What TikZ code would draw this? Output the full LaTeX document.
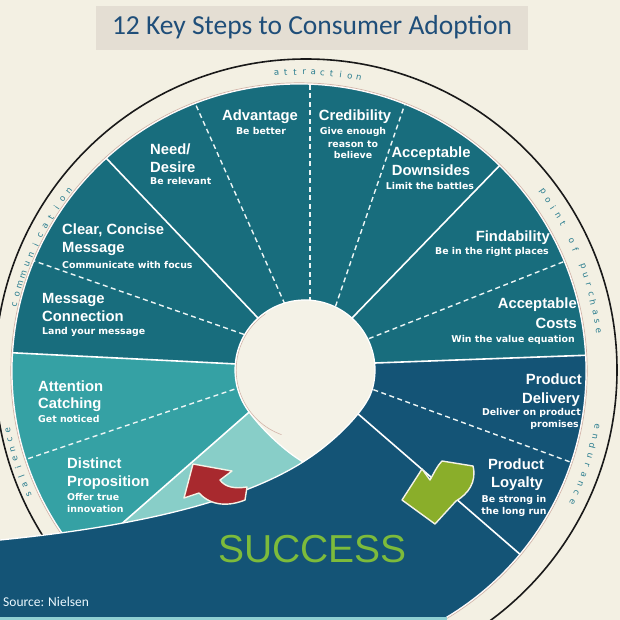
\documentclass[tikz,border=0pt]{standalone}
\usepackage{fontspec}
\setmainfont{Liberation Sans}
\newfontfamily\hdfont{Liberation Sans}
\newfontfamily\sbfont{DejaVu Sans}
\newfontfamily\ttlfont{Carlito}
\newfontfamily\rgfont{DejaVu Sans}
\usetikzlibrary{calc}
\definecolor{bgc}{HTML}{F3F0E3}
\definecolor{boxc}{HTML}{E4DED3}
\definecolor{titlec}{HTML}{1F4E79}
\definecolor{tealc}{HTML}{186D7D}
\definecolor{saltc}{HTML}{35A1A4}
\definecolor{palec}{HTML}{88CEC8}
\definecolor{navyc}{HTML}{145476}
\definecolor{holec}{HTML}{F4F2E7}
\definecolor{ringc}{HTML}{2A7D8F}
\definecolor{redc}{HTML}{A8292E}
\definecolor{greenc}{HTML}{8AAE2A}
\definecolor{succc}{HTML}{7DBB3B}
\definecolor{pinkc}{HTML}{D2B3A8}
\definecolor{stripc}{HTML}{8FD0D3}
\newcommand\ringword[5]{%
  \foreach \ch [count=\k from 0] in {#4} {
    \pgfmathsetmacro\ang{#1+#2*\k}
    \node[ringl, rotate={-\ang-90}] (#5\k) at ($(DC)+(\ang:#3)$) {\ch};
  }}
\begin{document}
\begin{tikzpicture}[x=1pt,y=-1pt,
  hd/.style={font=\hdfont\bfseries\fontsize{14.8pt}{17pt}\selectfont, text=white, inner sep=0pt},
  sb/.style={font=\sbfont\bfseries\fontsize{9.4pt}{11pt}\selectfont, text=white, inner sep=0pt},
  ringl/.style={font=\rgfont\fontsize{8.6pt}{9pt}\selectfont, text=ringc, inner sep=0pt, anchor=center},
  seg/.style={draw=white, line width=1.6pt},
  dseg/.style={draw=white!92!teal, line width=1.4pt, dash pattern=on 5pt off 3.5pt},
  arrowshape/.style={draw=holec, line width=1.4pt, line join=round}]
\useasboundingbox (0,0) rectangle (620,620);
\clip (0,0) rectangle (620,620);
\fill[bgc] (0,0) rectangle (620,620);
\coordinate (DC) at (299,371);
\coordinate (RC) at (306,370);
\coordinate (H) at (305,370);
\coordinate (hR) at ($(H)+(17:70)$);
\coordinate (hL) at ($(H)+(143:70)$);
\coordinate (tip) at (303,462);

% title
\node[fill=boxc, minimum width=432pt, minimum height=44pt, inner sep=0pt] (tbox) at (311.5,28.5) {};
\node[font=\ttlfont\fontsize{27.5pt}{30pt}\selectfont, text=titlec, anchor=base, inner sep=0pt] (title) at (312,35) {12 Key Steps to Consumer Adoption};

% outer ring
\draw[black!90, line width=1.6pt] (RC) circle[radius=311];

% ring words
\ringword{-94.3}{1.76}{299}{a,t,t,r,a,c,t,i,o,n}{ra}
\ringword{-36.3}{1.79}{302}{p,o,i,n,t,{},o,f,{},p,u,r,c,h,a,s,e}{rp}
\ringword{10.6}{1.875}{303}{e,n,d,u,r,a,n,c,e}{re}
\ringword{193.1}{2.08}{292}{c,o,m,m,u,n,i,c,a,t,i,o,n}{rc}
\ringword{155.5}{1.85}{297}{s,a,l,i,e,n,c,e}{rs}

% disk
\fill[tealc] (DC) circle[radius=287];
\begin{scope}
  \clip (DC) circle[radius=287];
  % salience sector
  \fill[saltc] (281,366) -- (-27,351) -- (-20,650) -- (290,650) -- (290,380) -- cycle;
  % pale wedge
  \fill[palec] (hL) -- (108,536) -- (108,600) -- (330,600) -- (310,420) -- cycle;
  \draw[seg] ($(hL)!-0.1!(118,527)$) -- ($(hL)!1.08!(118,527)$);
  % navy (endurance + success)
  \fill[navyc] (0,540) .. controls (110,529) and (230,508) .. (tip)
     .. controls (335,442) and (366,410) .. (hR) -- (330,365) -- (700,351) -- (700,700) -- (0,700) -- cycle;
\end{scope}
% disk edge
\draw[pinkc, line width=0.7pt] (DC) circle[radius=288.2];
\draw[white!94!pink, line width=1.2pt] (DC) circle[radius=287];
% success band
\fill[navyc] (0,540) .. controls (110,529) and (230,508) .. (tip) -- (303,630) -- (0,630) -- cycle;
\draw[white, line width=1.3pt] (0,540) .. controls (110,529) and (230,508) .. (tip);
\fill[stripc] (0,616.5) rectangle (447,620);

% segment lines
\begin{scope}
  \clip (DC) circle[radius=287];
  \draw[seg]  ($(237,364)!-0.1!(17,353)$) -- ($(237,364)!1.2!(17,353)$);
  \draw[dseg] ($(238,388)!-0.1!(33,457)$) -- ($(238,388)!1.2!(33,457)$);
  \draw[dseg] ($(240,333)!-0.1!(40,263)$) -- ($(240,333)!1.2!(40,263)$);
  \draw[seg]  ($(257,317)!-0.1!(108,160)$) -- ($(257,317)!1.2!(108,160)$);
  \draw[dseg] ($(283,300)!-0.1!(195,103)$) -- ($(283,300)!1.2!(195,103)$);
  \draw[dseg] ($(310,298)!-0.1!(310,85)$) -- ($(310,298)!1.2!(310,85)$);
  \draw[dseg] ($(337,302)!-0.1!(407,98)$) -- ($(337,302)!1.2!(407,98)$);
  \draw[seg]  ($(353,317)!-0.1!(503,162)$) -- ($(353,317)!1.2!(503,162)$);
  \draw[dseg] ($(373,337)!-0.1!(573,258)$) -- ($(373,337)!1.2!(573,258)$);
  \draw[seg]  ($(375,363)!-0.1!(593,355)$) -- ($(375,363)!1.2!(593,355)$);
  \draw[dseg] ($(377,391)!-0.1!(573,463)$) -- ($(377,391)!1.2!(573,463)$);
  \draw[seg]  ($(357,413)!-0.1!(522,556)$) -- ($(357,413)!1.2!(522,556)$);
\end{scope}

% hole
\fill[holec] (hR) arc[start angle=17, end angle=-217, radius=70]
   .. controls (264,432) and (286,452) .. (tip)
   .. controls (335,442) and (366,410) .. (hR) -- cycle;
\draw[pinkc, line width=0.6pt] (H) ++(110:68.8) arc[start angle=110, end angle=235, radius=68.8];
\draw[white, line width=1.2pt] (hR) arc[start angle=17, end angle=-217, radius=70]
   .. controls (264,432) and (286,452) .. (tip)
   .. controls (335,442) and (366,410) .. (hR) -- cycle;

% arrows
\draw[arrowshape, fill=redc] (193,464) -- (232,471) -- (220,480)
   .. controls (225,487) and (234,489) .. (247,487) -- (245,500)
   .. controls (230,506) and (212,507) .. (199,493) -- (184,498) -- cycle;
\draw[arrowshape, fill=greenc] (402,500) -- (422,469) -- (430,480)
   .. controls (434,473) and (437,466) .. (442,461) -- (473,466)
   .. controls (477,482) and (468,494) .. (456,501) -- (435,524) -- cycle;

% labels
\node[hd, anchor=base west] (nd1) at (150,155) {Need/};
\node[hd, anchor=base west] (nd2) at (150,173) {Desire};
\node[sb, anchor=base west] (nd3) at (150,185) {Be relevant};

\node[hd, anchor=base] (ad1) at (260,121) {Advantage};
\node[sb, anchor=base] (ad2) at (261,135) {Be better};

\node[hd, anchor=base] (cr1) at (355,121) {Credibility};
\node[sb, anchor=base] (cr2) at (353,135) {Give enough};
\node[sb, anchor=base] (cr3) at (353,147.5) {reason to};
\node[sb, anchor=base] (cr4) at (353,159) {believe};

\node[hd, anchor=base] (ds1) at (431,158) {Acceptable};
\node[hd, anchor=base] (ds2) at (431,176) {Downsides};
\node[sb, anchor=base] (ds3) at (430,190) {Limit the battles};

\node[hd, anchor=base east] (fd1) at (550,241.5) {Findability};
\node[sb, anchor=base east] (fd2) at (549,254) {Be in the right places};

\node[hd, anchor=base east] (co1) at (577,308) {Acceptable};
\node[hd, anchor=base east] (co2) at (577,328.5) {Costs};
\node[sb, anchor=base east] (co3) at (575,342) {Win the value equation};

\node[hd, anchor=base east] (pd1) at (582,384.5) {Product};
\node[hd, anchor=base east] (pd2) at (580,403) {Delivery};
\node[sb, anchor=base east] (pd3) at (581,415.5) {Deliver on product};
\node[sb, anchor=base east] (pd4) at (579,427) {promises};

\node[hd, anchor=base] (pl1) at (516,469.5) {Product};
\node[hd, anchor=base] (pl2) at (517,487.5) {Loyalty};
\node[sb, anchor=base] (pl3) at (514,502) {Be strong in};
\node[sb, anchor=base] (pl4) at (514,514) {the long run};

\node[hd, anchor=base west] (cc1) at (62,234) {Clear, Concise};
\node[hd, anchor=base west] (cc2) at (62,252.5) {Message};
\node[sb, anchor=base west] (cc3) at (62,268) {Communicate with focus};

\node[hd, anchor=base west] (mc1) at (42,303) {Message};
\node[hd, anchor=base west] (mc2) at (42,321) {Connection};
\node[sb, anchor=base west] (mc3) at (42,334) {Land your message};

\node[hd, anchor=base west] (ac1) at (38,391) {Attention};
\node[hd, anchor=base west] (ac2) at (38,408.5) {Catching};
\node[sb, anchor=base west] (ac3) at (38,422) {Get noticed};

\node[hd, anchor=base west] (dp1) at (67,468) {Distinct};
\node[hd, anchor=base west] (dp2) at (67,486) {Proposition};
\node[sb, anchor=base west] (dp3) at (67,500) {Offer true};
\node[sb, anchor=base west] (dp4) at (67,512) {innovation};

\node[font=\hdfont\fontsize{39pt}{42pt}\selectfont, text=succc, anchor=base, inner sep=0pt] (succ) at (312.5,562) {SUCCESS};
\node[font=\ttlfont\fontsize{13.5pt}{15pt}\selectfont, text=white!92!cyan, anchor=base west, inner sep=0pt] (src) at (3,606.5) {Source: Nielsen};
\end{tikzpicture}
\end{document}
